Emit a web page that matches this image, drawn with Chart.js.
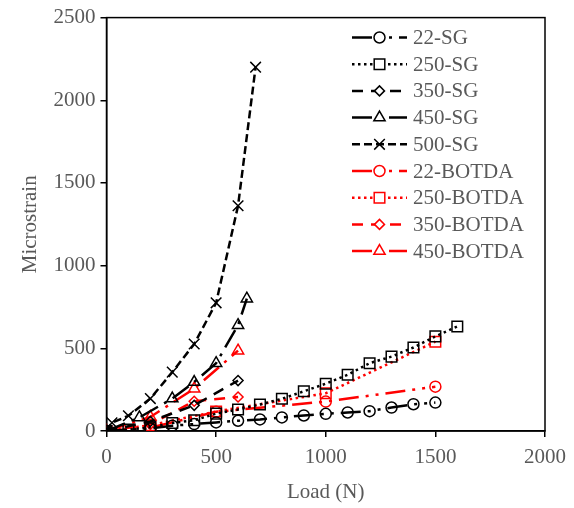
<!DOCTYPE html>
<html><head><meta charset="utf-8">
<script src="https://cdn.jsdelivr.net/npm/chart.js@4/dist/chart.umd.min.js"></script>
<style>html,body{margin:0;padding:0;background:#fff}</style>
</head><body>
<canvas id="c" width="574" height="508"></canvas>
<script>
// ---- data ----
const xTicks = [0, 500, 1000, 1500, 2000];
const yTicks = [0, 500, 1000, 1500, 2000, 2500];

const load22SG  = [0, 200, 300, 400, 500, 600, 700, 800, 900, 1000, 1100, 1200, 1300, 1400, 1500];
const val22SG   = [0, 15, 32, 42, 52, 62, 70, 82, 94, 104, 112, 120, 142, 162, 172];

const load250SG = [0, 100, 200, 300, 400, 500, 600, 700, 800, 900, 1000, 1100, 1200, 1300, 1400, 1500, 1600];
const val250SG  = [0, 8, 22, 48, 65, 105, 130, 160, 195, 240, 286, 340, 410, 450, 505, 572, 632];

const load350SG = [0, 200, 400, 600];
const val350SG  = [0, 58, 155, 305];

const load450SG = [0, 150, 300, 400, 500, 600, 640];
const val450SG  = [0, 82, 196, 296, 410, 640, 800];

const load500SG = [0, 25, 100, 200, 300, 400, 500, 600, 680];
const val500SG  = [0, 50, 92, 196, 356, 526, 775, 1362, 2200];

const load22B   = [0, 200, 500, 1000, 1500];
const val22B    = [0, 20, 116, 178, 268];

const load250B  = [0, 200, 500, 1000, 1500];
const val250B   = [0, 35, 118, 228, 540];

const load350B  = [0, 200, 400, 600];
const val350B   = [0, 40, 180, 206];

const load450B  = [0, 200, 400, 600];
const val450B   = [0, 85, 256, 486];

const seriesNames = ['22-SG','250-SG','350-SG','450-SG','500-SG','22-BOTDA','250-BOTDA','350-BOTDA','450-BOTDA'];

// ---- styles ----
const DASH = {
  longDashDotDot: [20,7,3,7,3,7],
  roundDot: [2.5,3.5],
  dash: [11,8],
  longDashDot: [20,7,3,7],
  sysDash: [8,4]
};
const BLACK = '#000000', RED = '#FF0000';
function pts(xs, ys){ return xs.map((x,i)=>({x:x, y:ys[i]})); }
function ds(label, xs, ys, color, dash, style, radius){
  return {
    label: label, data: pts(xs, ys), showLine: true, tension: 0,
    borderColor: color, borderWidth: 2.5, borderDash: dash, borderCapStyle: 'butt',
    pointStyle: style, pointRadius: radius, pointHoverRadius: radius,
    pointBorderColor: color, pointBackgroundColor: 'rgba(0,0,0,0)', pointBorderWidth: 1.5,
    fill: false
  };
}
const datasets = [
  ds(seriesNames[0], load22SG,  val22SG,  BLACK, DASH.longDashDotDot, 'circle', 5.5),
  ds(seriesNames[1], load250SG, val250SG, BLACK, DASH.roundDot, 'rect', 7.5),
  ds(seriesNames[2], load350SG, val350SG, BLACK, DASH.dash, 'rectRot', 5),
  ds(seriesNames[3], load450SG, val450SG, BLACK, DASH.longDashDot, 'triangle', 6.5),
  ds(seriesNames[4], load500SG, val500SG, BLACK, DASH.sysDash, 'crossRot', 7.5),
  ds(seriesNames[5], load22B,   val22B,   RED, DASH.longDashDotDot, 'circle', 5.5),
  ds(seriesNames[6], load250B,  val250B,  RED, DASH.roundDot, 'rect', 7.5),
  ds(seriesNames[7], load350B,  val350B,  RED, DASH.dash, 'rectRot', 5),
  ds(seriesNames[8], load450B,  val450B,  RED, DASH.longDashDot, 'triangle', 6.5)
];

const FONT = '"Liberation Serif", "Times New Roman", serif';
const GRAY = '#595959';

const framePlugin = {
  id: 'frame',
  beforeDatasetsDraw(chart){
    const a = chart.chartArea, ctx = chart.ctx;
    ctx.save();
    ctx.strokeStyle = '#000'; ctx.lineWidth = 1.5;
    ctx.strokeRect(a.left, a.top, a.right - a.left, a.bottom - a.top);
    ctx.restore();
  }
};

const legendPlugin = {
  id: 'customLegend',
  afterDraw(chart){
    const ctx = chart.ctx;
    const x0 = 352, x1 = 407, xm = 379.5, xt = 413, y0 = 37.5, dy = 26.7;
    chart.data.datasets.forEach((d, i) => {
      const y = y0 + i * dy;
      ctx.save();
      ctx.strokeStyle = d.borderColor; ctx.lineWidth = d.borderWidth;
      ctx.setLineDash(d.borderDash); ctx.lineCap = 'butt';
      ctx.beginPath(); ctx.moveTo(x0, y); ctx.lineTo(x1, y); ctx.stroke();
      ctx.setLineDash([]);
      ctx.fillStyle = '#ffffff';
      ctx.strokeStyle = d.pointBorderColor; ctx.lineWidth = d.pointBorderWidth;
      Chart.helpers.drawPoint(ctx, {pointStyle: d.pointStyle, rotation: 0, radius: d.pointRadius, borderWidth: d.pointBorderWidth}, xm, y);
      ctx.fillStyle = GRAY; ctx.font = '21px ' + FONT;
      ctx.textAlign = 'left'; ctx.textBaseline = 'middle';
      ctx.fillText(d.label, xt, y + 1);
      ctx.restore();
    });
  }
};

new Chart(document.getElementById('c'), {
  type: 'scatter',
  data: { datasets: datasets },
  plugins: [framePlugin, legendPlugin],
  options: {
    responsive: false, animation: false,
    layout: { padding: { left: 0, right: 25, top: 14, bottom: 0 } },
    plugins: { legend: { display: false }, tooltip: { enabled: false } },
    scales: {
      x: {
        type: 'linear', min: 0, max: 2000,
        afterBuildTicks: s => { s.ticks = xTicks.map(v => ({value: v})); },
        afterFit: s => { s.height = 77; },
        ticks: { color: GRAY, font: { family: FONT, size: 21 }, padding: 8, maxRotation: 0, callback: v => String(v) },
        grid: { display: true, drawOnChartArea: false, drawTicks: true, tickLength: 6, color: '#000', lineWidth: 1.5 },
        border: { display: true, color: '#000', width: 1.5 },
        title: { display: true, text: 'Load (N)', color: GRAY, font: { family: FONT, size: 21 }, padding: { top: 0, bottom: 3 } }
      },
      y: {
        type: 'linear', min: 0, max: 2500,
        afterBuildTicks: s => { s.ticks = yTicks.map(v => ({value: v})); },
        afterFit: s => { s.width = 106.5; },
        ticks: { color: GRAY, font: { family: FONT, size: 21 }, padding: 5, callback: v => String(v) },
        grid: { display: true, drawOnChartArea: false, drawTicks: true, tickLength: 6, color: '#000', lineWidth: 1.5 },
        border: { display: true, color: '#000', width: 1.5 },
        title: { display: true, text: 'Microstrain', color: GRAY, font: { family: FONT, size: 21 }, padding: { top: 18, bottom: 0 } }
      }
    }
  }
});
</script>
</body></html>
